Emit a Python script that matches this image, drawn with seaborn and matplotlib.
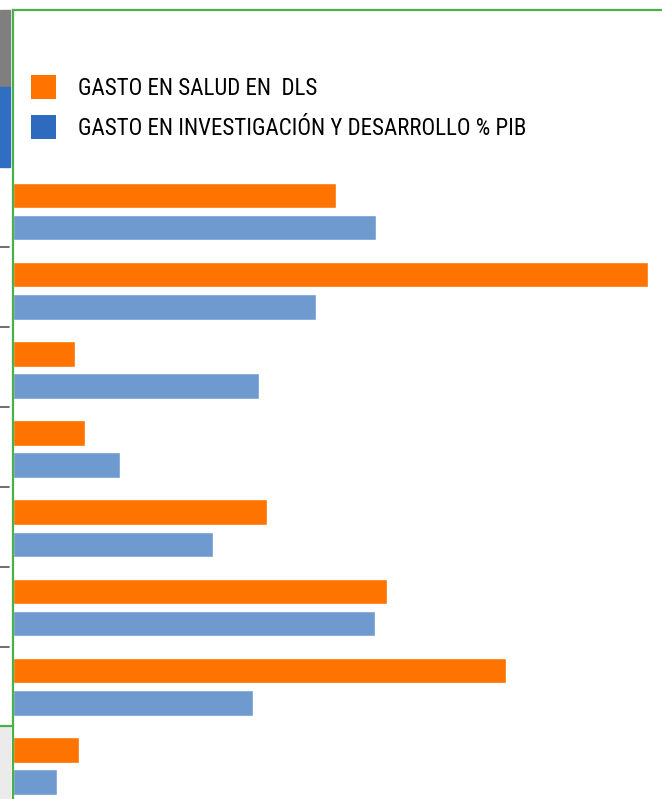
import pandas as pd
import numpy as np
import seaborn as sns
import matplotlib.pyplot as plt
from matplotlib.patches import Patch, Rectangle
from matplotlib.lines import Line2D


# categories (labels are cut off in the source image)
categorias = ["C1", "C2", "C3", "C4", "C5", "C6", "C7", "C8"]
# bar lengths (arbitrary common scale)
salud = [323, 635, 62, 72, 254, 374, 493, 66]
investigacion = [363, 303, 246, 107, 200, 362, 240, 44]
series = ["GASTO EN SALUD EN  DLS", "GASTO EN INVESTIGACIÓN Y DESARROLLO % PIB"]

naranja = "#ff7300"
azul_barra = "#6e9ad0"
azul_leyenda = "#2e6bbf"
verde = "#4caf48"


def build_frame():
    """Long table for seaborn."""
    df = pd.DataFrame({
        "categoria": categorias * 2,
        "valor": salud + investigacion,
        "serie": [series[0]] * len(categorias) + [series[1]] * len(categorias),
    })
    return df


if __name__ == "__main__":
    df = build_frame()
    sns.set_style("white")
    plt.rcParams['font.family'] = ['Roboto Condensed', 'Lato', 'DejaVu Sans']

    W, H = 662, 799
    fig = plt.figure(figsize=(W / 100, H / 100), dpi=100)
    ax = fig.add_axes([13 / W, 0, (W - 13) / W, (H - 10) / H])

    sns.barplot(data=df, y="categoria", x="valor", hue="serie", orient="h",
                palette=[naranja, azul_barra], width=0.81, gap=0.2,
                saturation=1, legend=False, ax=ax)

    # place the groups where they sit in the picture
    paso = 79.2
    ax.set_ylim((H - 211.5) / paso, -(211.5 - 10) / paso)
    ax.set_xlim(0, W - 13)
    ax.set_xticks([])
    ax.set_yticks([])
    ax.set_xlabel("")
    ax.set_ylabel("")
    for s in ["right", "bottom"]:
        ax.spines[s].set_visible(False)
    for s in ["left", "top"]:
        ax.spines[s].set_color(verde)
        ax.spines[s].set_linewidth(1.6)

    handles = [Patch(facecolor=naranja, edgecolor="none"),
               Patch(facecolor=azul_leyenda, edgecolor="none")]
    ax.legend(handles, series, loc="upper left", frameon=False,
              bbox_to_anchor=(9 / (W - 13), 1 - 56 / (H - 10)),
              fontsize=16.5, handlelength=1.09, handleheight=1.25,
              handletextpad=0.95, labelspacing=0.66, borderaxespad=0,
              labelcolor="black")

    # bits of the neighbouring chart on the left edge
    def px(x, y, w, h, color):
        fig.patches.append(Rectangle((x / W, 1 - (y + h) / H), w / W, h / H,
                                     transform=fig.transFigure, color=color,
                                     zorder=0))
    px(0, 10, 10, 77, "#7f7f7f")
    px(0, 87, 10, 80, "#2f6ec0")
    px(0, 727, 10, 72, "#ebebeb")
    for y in [247, 327, 407, 487, 567, 647]:
        fig.lines.append(Line2D([0, 9 / W], [1 - y / H] * 2, color="#555555",
                                lw=1.2, transform=fig.transFigure))
    fig.lines.append(Line2D([0, 13 / W], [1 - 726 / H] * 2, color=verde,
                            lw=1.6, transform=fig.transFigure))

    fig.savefig("out.png", dpi=100)
